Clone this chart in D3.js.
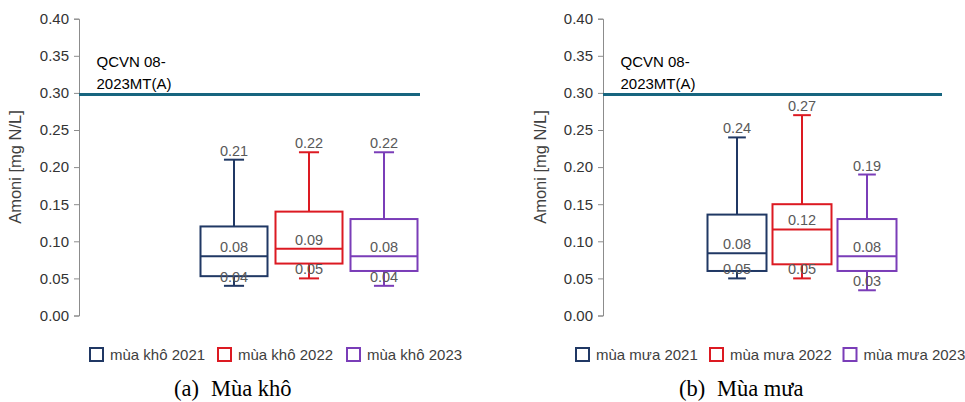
<!DOCTYPE html>
<html>
<head>
<meta charset="utf-8">
<script src="https://cdn.jsdelivr.net/npm/d3@7/dist/d3.min.js"></script>
<style>
  html, body { margin: 0; padding: 0; background: #ffffff; }
  svg { display: block; }
</style>
</head>
<body>
<svg id="chart" width="965" height="402"></svg>
<script>
// Ammonium (Amoni) box plots, dry season vs rainy season, 2021–2023
const years = ["2021", "2022", "2023"];
const seriesColors = ["#203864", "#DC1A22", "#7A3DB8"];
const yTicks = [0, 0.05, 0.10, 0.15, 0.20, 0.25, 0.30, 0.35, 0.40];
const standardValue = 0.298;          // QCVN 08-2023MT(A) limit line
const standardLabel = ["QCVN 08-", "2023MT(A)"];
const yTitle = "Amoni [mg N/L]";

// Dry season: min, Q1, median, Q3, max per year
const dryMin    = [0.04, 0.05, 0.04];
const dryQ1     = [0.053, 0.07, 0.06];
const dryMedian = [0.08, 0.09, 0.08];
const dryQ3     = [0.12, 0.14, 0.13];
const dryMax    = [0.21, 0.22, 0.22];
const dryLegend = ["mùa khô 2021", "mùa khô 2022", "mùa khô 2023"];

// Rainy season
const wetMin    = [0.05, 0.05, 0.034];
const wetQ1     = [0.06, 0.069, 0.06];
const wetMedian = [0.084, 0.116, 0.08];
const wetQ3     = [0.136, 0.15, 0.13];
const wetMax    = [0.24, 0.27, 0.19];
const wetLegend = ["mùa mưa 2021", "mùa mưa 2022", "mùa mưa 2023"];

const svg = d3.select("#chart");
const fmt = d3.format(".2f");

const panels = [
  {
    axisX: 79, lineEnd: 420, boxRange: [200.5, 417.5], pad: 8 / 75,
    min: dryMin, q1: dryQ1, med: dryMedian, q3: dryQ3, max: dryMax,
    legend: dryLegend, legendX: [90, 218, 347], titleX: 16,
    capTag: "(a)", capText: "Mùa khô", capX: [174, 211]
  },
  {
    axisX: 603, lineEnd: 942, boxRange: [707.5, 896.5], pad: 6 / 65,
    min: wetMin, q1: wetQ1, med: wetMedian, q3: wetQ3, max: wetMax,
    legend: wetLegend, legendX: [576, 710, 843.5], titleX: 541,
    capTag: "(b)", capText: "Mùa mưa", capX: [679, 717]
  }
];

const y = d3.scaleLinear().domain([0, 0.4]).range([315.5, 18.7]);

panels.forEach(p => {
  const g = svg.append("g");

  // y axis
  const axis = d3.axisLeft(y).tickValues(yTicks).tickFormat(fmt).tickSize(5).tickPadding(5);
  const ax = g.append("g").attr("transform", `translate(${p.axisX},0)`).call(axis);
  ax.select(".domain").attr("stroke", "#8c8c8c").attr("stroke-width", 1);
  ax.selectAll(".tick line").attr("stroke", "#8c8c8c");
  ax.selectAll(".tick text")
    .attr("font-family", "'Liberation Sans', Arial, sans-serif")
    .attr("font-size", 15).attr("fill", "#333333");

  // axis title
  g.append("text")
    .attr("transform", `translate(${p.titleX + 5},${167}) rotate(-90)`)
    .attr("text-anchor", "middle")
    .attr("font-family", "'Liberation Sans', Arial, sans-serif")
    .attr("font-size", 16.5).attr("fill", "#404040")
    .text(yTitle);

  // standard limit line
  g.append("line")
    .attr("x1", p.axisX).attr("x2", p.lineEnd)
    .attr("y1", y(standardValue)).attr("y2", y(standardValue))
    .attr("stroke", "#17657F").attr("stroke-width", 3);
  const st = g.append("text")
    .attr("font-family", "'Liberation Sans', Arial, sans-serif")
    .attr("font-size", 15).attr("fill", "#000000");
  standardLabel.forEach((t, i) => {
    st.append("tspan").attr("x", p.axisX + 17.5).attr("y", 66.5 + i * 22.5).text(t);
  });

  // boxes
  const x = d3.scaleBand().domain(years).range(p.boxRange).paddingInner(p.pad).paddingOuter(0);
  const bw = x.bandwidth();
  const capW = bw * 0.3;

  years.forEach((yr, i) => {
    const c = seriesColors[i];
    const cx = x(yr) + bw / 2;
    const bg = g.append("g").attr("stroke", c).attr("stroke-width", 2).attr("fill", "none");
    // whiskers
    bg.append("line").attr("x1", cx).attr("x2", cx).attr("y1", y(p.max[i])).attr("y2", y(p.q3[i]));
    bg.append("line").attr("x1", cx).attr("x2", cx).attr("y1", y(p.q1[i])).attr("y2", y(p.min[i]));
    bg.append("line").attr("x1", cx - capW / 2).attr("x2", cx + capW / 2).attr("y1", y(p.max[i])).attr("y2", y(p.max[i]));
    bg.append("line").attr("x1", cx - capW / 2).attr("x2", cx + capW / 2).attr("y1", y(p.min[i])).attr("y2", y(p.min[i]));
    // box
    bg.append("rect").attr("x", x(yr)).attr("width", bw)
      .attr("y", y(p.q3[i])).attr("height", y(p.q1[i]) - y(p.q3[i]));
    // median
    bg.append("line").attr("x1", x(yr)).attr("x2", x(yr) + bw).attr("y1", y(p.med[i])).attr("y2", y(p.med[i]));

    // value labels: max, median, min
    [p.max[i], p.med[i], p.min[i]].forEach(v => {
      g.append("text")
        .attr("x", cx).attr("y", y(v) - 4)
        .attr("text-anchor", "middle")
        .attr("font-family", "'Liberation Sans', Arial, sans-serif")
        .attr("font-size", 14.5).attr("fill", "#595959")
        .text(fmt(v));
    });
  });

  // legend
  years.forEach((yr, i) => {
    const lx = p.legendX[i];
    g.append("rect").attr("x", lx).attr("y", 348).attr("width", 13).attr("height", 13)
      .attr("fill", "none").attr("stroke", seriesColors[i]).attr("stroke-width", 2);
    g.append("text").attr("x", lx + 20).attr("y", 359.5)
      .attr("font-family", "'Liberation Sans', Arial, sans-serif")
      .attr("font-size", 15).attr("fill", "#404040")
      .text(p.legend[i]);
  });

  // panel caption
  const cap = g.append("text").attr("y", 396)
    .attr("font-family", "'Liberation Serif', 'Times New Roman', serif")
    .attr("font-size", 22.5).attr("fill", "#000000");
  cap.append("tspan").attr("x", p.capX[0]).text(p.capTag);
  cap.append("tspan").attr("x", p.capX[1]).text(p.capText);
});
</script>
</body>
</html>
